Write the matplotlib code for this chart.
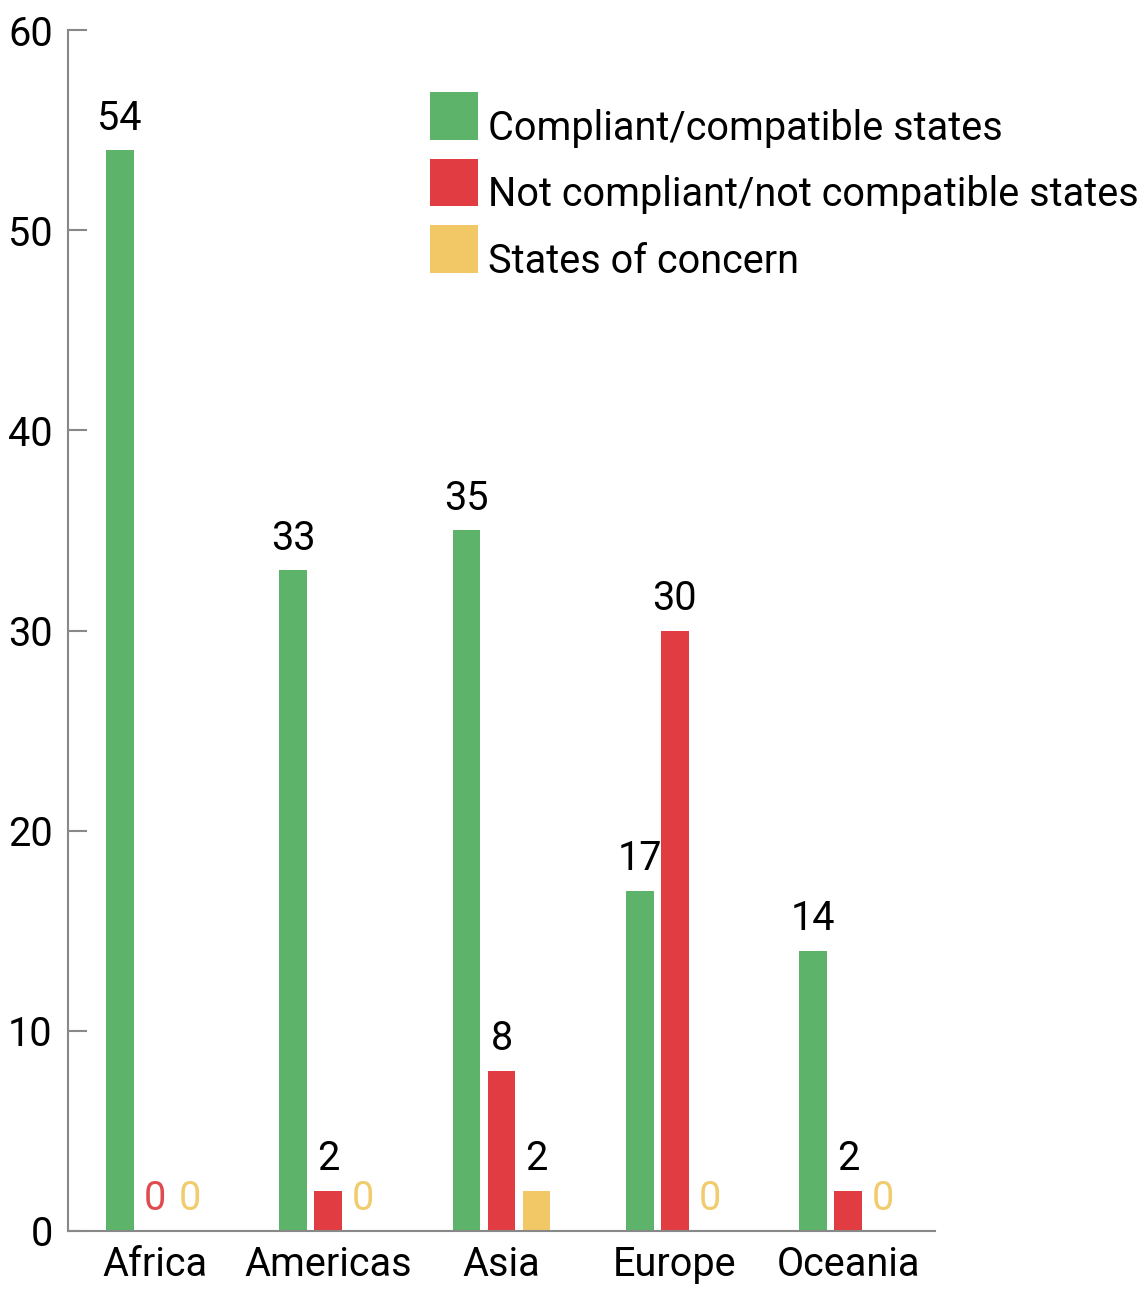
import numpy as np
import matplotlib
matplotlib.use("Agg")
import matplotlib.pyplot as plt
from matplotlib.patches import Rectangle
from matplotlib.legend_handler import HandlerPatch

plt.rcParams['font.family'] = ['Roboto', 'DejaVu Sans']

regions = ["Africa", "Americas", "Asia", "Europe", "Oceania"]
compliant = [54, 33, 35, 17, 14]
not_compliant = [0, 2, 8, 30, 2]
concern = [0, 0, 2, 0, 0]

series = [
    ("Compliant/compatible states", compliant, "#5db36a", "#5db36a"),
    ("Not compliant/not compatible states", not_compliant, "#e03c41", "#e04b50"),
    ("States of concern", concern, "#f2c866", "#f0cc6e"),
]

fs = 28.5
hsize = 1.21


def square_on_baseline(legend, orig_handle, xdescent, ydescent, width, height, fontsize):
    # legend swatch sits on the text baseline instead of straddling it
    return Rectangle((-xdescent, 0), width, hsize * fontsize)


fig = plt.figure(figsize=(11.47, 12.89), dpi=100)
ax = fig.add_axes([68 / 1147, 58 / 1289, 867 / 1147, 1201 / 1289])

x = np.arange(len(regions))
step = 0.2017
width = 0.161
handles = []
for k, (name, vals, col, zero_col) in enumerate(series):
    pos = x + (k - 1) * step
    b = ax.bar(pos, vals, width=width, color=col, label=name)
    handles.append(b.patches[0])
    for xi, v in zip(pos, vals):
        ax.annotate(str(v), (xi, v), xytext=(0, 9), textcoords="offset points",
                    ha="center", va="bottom", fontsize=fs,
                    color="black" if v else zero_col)

ax.set_xlim(-0.5, 4.5)
ax.set_ylim(0, 60)
ax.set_yticks(range(0, 61, 10))
ax.set_xticks(x)
ax.set_xticklabels(regions)

for s in ("top", "right"):
    ax.spines[s].set_visible(False)
for s in ("left", "bottom"):
    ax.spines[s].set_color("#888888")
    ax.spines[s].set_linewidth(1.5)

ax.tick_params(axis="y", direction="in", length=14, width=1.5, color="#888888",
               labelsize=fs, pad=11)
ax.tick_params(axis="x", length=0, labelsize=fs, pad=10)

ax.legend(handles, [s[0] for s in series],
          loc="upper left", bbox_to_anchor=(0.4175, 0.9367), frameon=False,
          fontsize=fs, handlelength=hsize, handleheight=hsize, handletextpad=0.25,
          labelspacing=0.63, borderaxespad=0, borderpad=0,
          handler_map={Rectangle: HandlerPatch(patch_func=square_on_baseline)})

fig.savefig("out.png", dpi=100)
